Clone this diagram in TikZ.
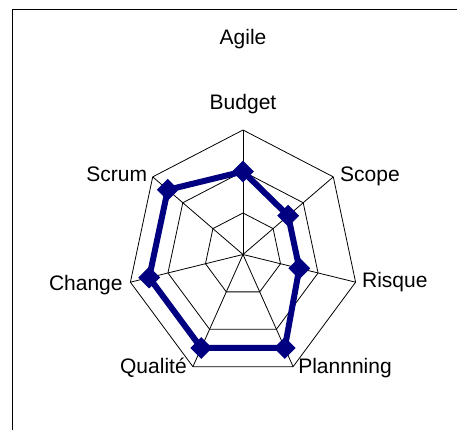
\documentclass[tikz,border=0pt]{standalone}
\usepackage{fontspec}
\setmainfont{Liberation Sans}
\usetikzlibrary{shapes.geometric}
\definecolor{radarblue}{RGB}{0,0,128}

\begin{document}
\begin{tikzpicture}[x=1pt,y=1pt]
        \tikzstyle{grid}=[black, line width=0.8pt]
        \tikzstyle{datapoint}=[diamond, fill=radarblue, inner sep=0pt, minimum size=22pt]
        \tikzstyle{axislabel}=[inner sep=0pt, font=\fontsize{21}{25}\selectfont]
        \useasboundingbox (0,0) rectangle (457,430);

        % Chart frame (cut at right and bottom)
        \draw[line width=1.3pt] (457,420.7) -- (12.3,420.7) -- (12.3,0);

        % Title
        \node[axislabel, anchor=base] (title) at (243,385) {Agile};

        \begin{scope}[shift={(243,175.5)}, x=115.5pt, y=124.5pt]
            % Center and axis ends
            \coordinate (c) at (0,0);
            \foreach \i in {0,...,6}
                \coordinate (v\i) at ({90-\i*360/7}:1);

            % Rings at 2, 4 and 6
            \foreach \r in {0.3333,0.6667,1}
                \draw[grid] (90:\r) \foreach \i in {1,...,6} { -- ({90-\i*360/7}:\r) } -- cycle;

            % Spokes
            \foreach \i in {0,...,6}
                \draw[grid] (c) -- (v\i);

            % Data points (scale 0 to 6)
            \foreach \v [count=\i from 0] in {4,3,3,5,5,5,5}
                \coordinate (d\i) at ({90-\i*360/7}:\v/6);

            % Data line and markers
            \draw[radarblue, line width=6pt, line join=round]
                (d0) -- (d1) -- (d2) -- (d3) -- (d4) -- (d5) -- (d6) -- cycle;
            \foreach \i in {0,...,6}
                \node[datapoint] (m\i) at (d\i) {};
        \end{scope}

        % Axis labels
        \node[axislabel, anchor=base] (budget) at ([shift={(0,20.7)}]v0) {Budget};
        \node[axislabel, anchor=base west] (scope) at ([shift={(6.7,-5)}]v1) {Scope};
        \node[axislabel, anchor=base west] (risque) at ([shift={(6.3,-5.6)}]v2) {Risque};
        \node[axislabel, anchor=base west] (plan) at ([shift={(5,-7.3)}]v3) {Plannning};
        \node[axislabel, anchor=base east] (qualite) at ([shift={(-6,-7.3)}]v4) {Qualité};
        \node[axislabel, anchor=base east] (change) at ([shift={(-7.6,-8.3)}]v5) {Change};
        \node[axislabel, anchor=base east] (scrum) at ([shift={(-5.4,-5)}]v6) {Scrum};
\end{tikzpicture}
\end{document}
